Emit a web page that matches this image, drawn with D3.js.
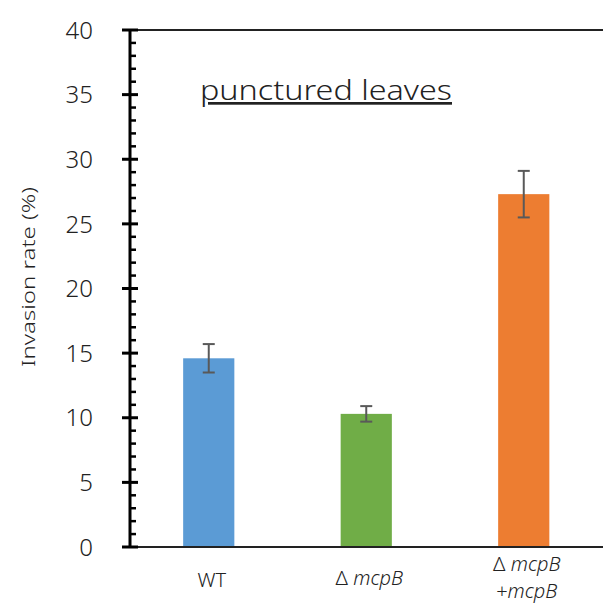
<!DOCTYPE html>
<html><head><meta charset="utf-8">
<script src="https://cdn.jsdelivr.net/npm/d3@7"></script>
<style>body{margin:0;background:#fff}svg{display:block}</style>
</head><body>
<script>
const categories = ["WT", "mcpB", "mcpB+"];
const values = [14.6, 10.3, 27.3];
const errors = [1.1, 0.6, 1.8];
const colors = ["#5B9BD5", "#70AD47", "#ED7D31"];
const majorTicks = [0, 5, 10, 15, 20, 25, 30, 35, 40];

const W = 603, H = 603;
const svg = d3.select("body").append("svg").attr("width", W).attr("height", H);
const font = "'Noto Sans', 'DejaVu Sans', sans-serif";

const x = d3.scaleBand().domain(categories).range([130, 602.5]).paddingInner(0.675).paddingOuter(0.3375);
const y = d3.scaleLinear().domain([0, 40]).range([547, 30]);

svg.append("line").attr("x1", 122).attr("x2", W).attr("y1", y(40)).attr("y2", y(40)).attr("stroke", "#222").attr("stroke-width", 2);

svg.selectAll("rect.bar").data(categories).enter().append("rect")
  .attr("x", d => x(d)).attr("width", x.bandwidth())
  .attr("y", (d, i) => y(values[i])).attr("height", (d, i) => y(0) - y(values[i]))
  .attr("fill", (d, i) => colors[i]);

svg.append("line").attr("x1", 122).attr("x2", W).attr("y1", y(0)).attr("y2", y(0)).attr("stroke", "#222").attr("stroke-width", 2);

const eg = svg.selectAll("g.err").data(categories).enter().append("g")
  .attr("transform", d => `translate(${x(d) + x.bandwidth() / 2},0)`);
eg.append("line").attr("y1", (d, i) => y(values[i] + errors[i])).attr("y2", (d, i) => y(values[i] - errors[i]))
  .attr("stroke", "#595959").attr("stroke-width", 2);
eg.append("line").attr("x1", -6).attr("x2", 6).attr("y1", (d, i) => y(values[i] + errors[i])).attr("y2", (d, i) => y(values[i] + errors[i]))
  .attr("stroke", "#595959").attr("stroke-width", 2);
eg.append("line").attr("x1", -6).attr("x2", 6).attr("y1", (d, i) => y(values[i] - errors[i])).attr("y2", (d, i) => y(values[i] - errors[i]))
  .attr("stroke", "#595959").attr("stroke-width", 2);

const ax = svg.append("g").attr("transform", "translate(130,0)");
ax.append("line").attr("y1", y(40)).attr("y2", y(0)).attr("stroke", "#000").attr("stroke-width", 3);
const minor = d3.range(0, 41).filter(v => v % 5 !== 0);
ax.selectAll("line.minor").data(minor).enter().append("line")
  .attr("x1", 0).attr("x2", 6).attr("y1", d => y(d)).attr("y2", d => y(d)).attr("stroke", "#000").attr("stroke-width", 2.5);
ax.selectAll("line.major").data(majorTicks).enter().append("line")
  .attr("x1", -8).attr("x2", 8).attr("y1", d => y(d)).attr("y2", d => y(d)).attr("stroke", "#000").attr("stroke-width", 3);
ax.selectAll("text.tl").data(majorTicks).enter().append("text")
  .attr("x", -37).attr("y", d => y(d)).attr("dy", "0.36em").attr("text-anchor", "end")
  .attr("font-family", font).attr("font-weight", 300).attr("font-size", 24).attr("fill", "#222").text(d => d);

svg.append("text").attr("transform", "translate(35,277) rotate(-90)").attr("text-anchor", "middle")
  .attr("font-family", font).attr("font-weight", 300).attr("font-size", 18).attr("fill", "#222")
  .attr("textLength", 180).attr("lengthAdjust", "spacingAndGlyphs").text("Invasion rate (%)");

svg.append("text").attr("x", 326).attr("y", 100).attr("text-anchor", "middle")
  .attr("font-family", font).attr("font-weight", 300).attr("font-size", 27).attr("fill", "#222")
  .attr("text-decoration", "underline").attr("textLength", 252).attr("lengthAdjust", "spacingAndGlyphs").text("punctured leaves");

const lab = (cx, cy, parts) => {
  const t = svg.append("text").attr("x", cx).attr("y", cy).attr("text-anchor", "middle")
    .attr("font-family", font).attr("font-weight", 300).attr("font-size", 20).attr("fill", "#222");
  parts.forEach(p => t.append("tspan").attr("font-style", p[1] ? "italic" : "normal").text(p[0]));
};
const cx = d => x(d) + x.bandwidth() / 2;
lab(cx("WT") + 3, 587, [["WT", false]]);
lab(cx("mcpB") + 3, 585, [["Δ ", false], ["mcpB", true]]);
lab(cx("mcpB+") + 3, 571, [["Δ ", false], ["mcpB", true]]);
lab(cx("mcpB+") + 3, 598, [["+", false], ["mcpB", true]]);
</script>
</body></html>
